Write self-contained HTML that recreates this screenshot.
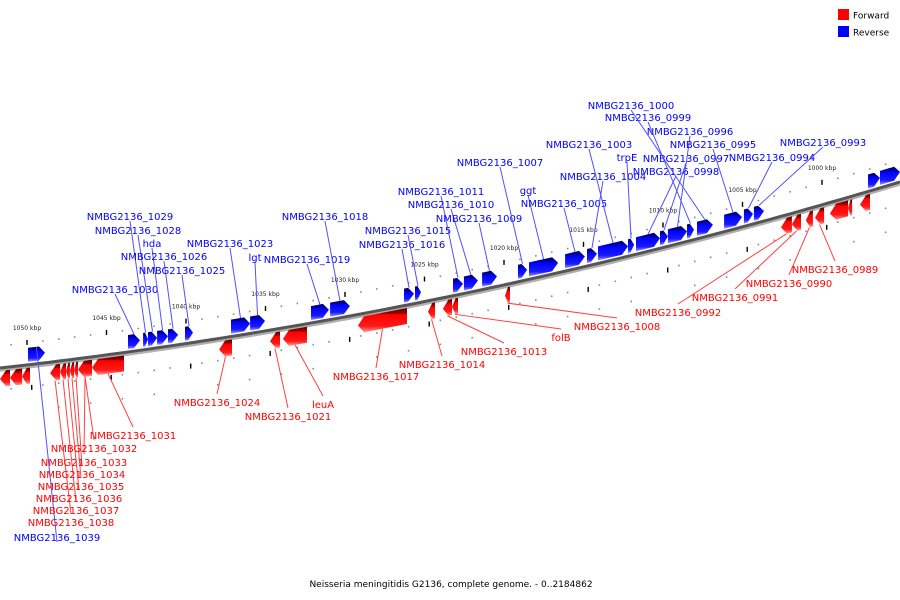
<!DOCTYPE html>
<html><head><meta charset="utf-8">
<style>
html,body{margin:0;padding:0;background:#fff;}
svg{display:block;font-family:"DejaVu Sans","Liberation Sans",sans-serif;}
</style></head>
<body>
<svg id="chart" width="900" height="600" viewBox="0 0 900 600">
<defs>
<linearGradient id="gB" x1="0" y1="0" x2="0" y2="1">
<stop offset="0" stop-color="#000060"/><stop offset="0.22" stop-color="#00009a"/><stop offset="0.27" stop-color="#0000ff"/><stop offset="0.75" stop-color="#1a1aff"/><stop offset="1" stop-color="#9a9aff"/>
</linearGradient>
<linearGradient id="gR" x1="0" y1="0" x2="0" y2="1">
<stop offset="0" stop-color="#600000"/><stop offset="0.22" stop-color="#9a0000"/><stop offset="0.27" stop-color="#ff0000"/><stop offset="0.75" stop-color="#ff1a1a"/><stop offset="1" stop-color="#ff9a9a"/>
</linearGradient>
</defs>
<g id="grid"></g>
<g id="backbone"></g>
<g id="genes"></g>
<g id="labels"></g>
<g>
<rect x="838" y="9" width="11" height="11" fill="#ff0000"/>
<text x="853" y="18.5" font-size="9" fill="#000">Forward</text>
<rect x="838" y="26" width="11" height="11" fill="#0000ff"/>
<text x="853" y="35.5" font-size="9" fill="#000">Reverse</text>
</g>
<text x="451" y="587" font-size="9" text-anchor="middle" fill="#000">Neisseria meningitidis G2136, complete genome. - 0..2184862</text>
</svg>
<script>
// gene data (kbp)
const geneStart = [1048.87,1042.89,1042.39,1041.82,1041.13,1040.50,1039.56,1035.97,1035.03,1031.01,1029.69,1025.66,1025.22,1022.58,1021.64,1020.44,1018.55,1016.60,1014.91,1014.15,1012.20,1011.82,1010.19,1009.69,1008.49,1008.05,1006.86,1005.03,1004.34,1003.65,996.35,995.09,
 1051.07,1050.31,1049.81,1047.92,1047.55,1047.30,1047.04,1046.79,1045.91,1043.90,1037.11,1034.09,1032.39,1026.10,1024.34,1023.27,1022.89,1019.62,1001.89,1001.32,1000.57,999.87,998.36,998.11,996.98];
const geneEnd = [1049.94,1043.65,1042.70,1042.39,1041.82,1041.13,1040.06,1037.17,1035.97,1032.14,1030.94,1026.29,1025.60,1023.21,1022.52,1021.38,1019.12,1018.43,1016.16,1014.78,1014.09,1012.20,1011.70,1010.19,1009.69,1008.49,1007.86,1006.16,1004.91,1004.28,997.11,996.35,
 1051.70,1051.07,1050.31,1048.55,1047.92,1047.55,1047.30,1047.04,1046.79,1045.91,1037.92,1034.72,1033.90,1029.18,1024.78,1023.84,1023.27,1019.94,1002.58,1001.89,1001.01,1000.44,999.50,998.36,997.61];
const geneStrand = ["R","R","R","R","R","R","R","R","R","R","R","R","R","R","R","R","R","R","R","R","R","R","R","R","R","R","R","R","R","R","R","R",
 "F","F","F","F","F","F","F","F","F","F","F","F","F","F","F","F","F","F","F","F","F","F","F","F","F"];
const geneLabel = ["NMBG2136_1039","NMBG2136_1030","NMBG2136_1029","NMBG2136_1028","hda","NMBG2136_1026","NMBG2136_1025","NMBG2136_1023","lgt","NMBG2136_1019","NMBG2136_1018","NMBG2136_1016","NMBG2136_1015","NMBG2136_1011","NMBG2136_1010","NMBG2136_1009","NMBG2136_1007","ggt","NMBG2136_1005","NMBG2136_1004","NMBG2136_1003","trpE","NMBG2136_0998","NMBG2136_0997","NMBG2136_0996","NMBG2136_0999","NMBG2136_1000","NMBG2136_0995","NMBG2136_0994","NMBG2136_0993","","",
 "","","","NMBG2136_1038","NMBG2136_1037","NMBG2136_1036","NMBG2136_1035","NMBG2136_1034","NMBG2136_1033","NMBG2136_1031","NMBG2136_1024","NMBG2136_1021","leuA","NMBG2136_1017","NMBG2136_1014","NMBG2136_1013","folB","NMBG2136_1008","NMBG2136_0992","NMBG2136_0991","NMBG2136_0990","NMBG2136_0989","","",""];
const extraLabel = ["NMBG2136_1032"];
const tickKb = [1050,1045,1040,1035,1030,1025,1020,1015,1010,1005,1000];
const tickLabels = ["1050 kbp","1045 kbp","1040 kbp","1035 kbp","1030 kbp","1025 kbp","1020 kbp","1015 kbp","1010 kbp","1005 kbp","1000 kbp"];

// layout: label centre positions (layout, not data)
const labelPos = [[57,537],[115,289],[130,216],[138,230],[152,243],[164,256],[182,270],[230,243],[255,257],[307,259],[325,216],[402,244],[408,230],[441,191],[451,204],[479,218],[500,162],[528,190],[564,203],[603,176],[589,144],[627,157],[676,171],[686,158],[690,131],[648,117],[631,105],[713,144],[772,157],[823,142],null,null,
 null,null,null,[71,522],[76,510],[79,498],[81,486],[82,474],[84,462],[133,435],[217,402],[288,416],[323,404],[376,376],[442,364],[504,351],[561,337],[617,326],[678,312],[735,297],[789,283],[835,269],null,null,null];

const NS='http://www.w3.org/2000/svg';
function xs(kb){ return 27 + (1050-kb)*15.9; }
function yb(x){ return 368 - 0.1117*x - 1.056e-4*x*x; }
function mk(tag, attrs, parent){ const e=document.createElementNS(NS,tag); for(const k in attrs) e.setAttribute(k,attrs[k]); parent.appendChild(e); return e; }

const gGrid=document.getElementById('grid'), gBack=document.getElementById('backbone'), gGenes=document.getElementById('genes'), gLab=document.getElementById('labels');

// backbone
let pts=[], pts2=[];
for(let x=0;x<=900;x+=10){ pts.push(x+','+yb(x).toFixed(1)); pts2.push(x+','+(yb(x)+2.5).toFixed(1)); }
let sh=mk('polyline',{points:pts2.join(' '),fill:'none',stroke:'#b0b0b0','stroke-width':2.5},gBack);


let bl=mk('polyline',{points:pts.join(' '),fill:'none',stroke:'#555','stroke-width':3},gBack);



// dots each kb
for(let kb=1052;kb>=994;kb--){
  const x=xs(kb); if(x<0||x>900) continue;
  if(kb%5===0) continue;
  [-22,22].forEach(o=>{
    const d=mk('rect',{x:x-0.8,y:yb(x)+o-0.8,width:1.6,height:1.6,fill:'#8a8a8a'},gGrid);
    
    
  });
  if(kb%2===0){
    const d=mk('rect',{x:x-0.8,y:yb(x)+46-0.8,width:1.6,height:1.6,fill:'#8a8a8a'},gGrid);
    
    
  }
}
tickKb.forEach((kb,i)=>{
  const x=xs(kb), y=yb(x);
  const t=mk('rect',{x:x-0.7,y:y-25,width:1.4,height:5,fill:'#000'},gGrid);
  
  
  const t2=mk('rect',{x:x+4,y:y+20,width:1.4,height:5,fill:'#000'},gGrid);
  
  
  const l=mk('text',{x:x,y:y-35,'font-size':6,'text-anchor':'middle',fill:'#222'},gGrid);
  l.textContent=tickLabels[i];
  
  
});

// genes
geneStart.forEach((s,i)=>{
  const e=geneEnd[i], rev=geneStrand[i]==='R';
  let x1=Math.min(xs(s),xs(e)), x2=Math.max(xs(s),xs(e));
  const top=rev?-17:3, bot=rev?-3:19, mid=(top+bot)/2;
  const h=Math.min(6,(x2-x1)*0.6);
  let p;
  if(rev){
    p=[[x1,top],[x2-h,top],[x2,mid],[x2-h,bot],[x1,bot]];
  } else {
    p=[[x2,top],[x1+h,top],[x1,mid],[x1+h,bot],[x2,bot]];
  }
  const str=p.map(q=>q[0].toFixed(1)+','+(yb(q[0])+q[1]).toFixed(1)).join(' ');
  const poly=mk('polygon',{points:str,fill:rev?'url(#gB)':'url(#gR)'},gGenes);
  
  
  const lp=labelPos[i];
  if(geneLabel[i] && lp){
    const gx=(x1+x2)/2, gy=yb(gx)+(rev?top:bot);
    const ly=rev?lp[1]+5:lp[1]-8;
    const ln=mk('line',{x1:gx,y1:gy,x2:lp[0],y2:ly,stroke:rev?'#5050ff':'#ff4040','stroke-width':1},gLab);
    
    
    const t=mk('text',{x:lp[0],y:lp[1]+4,'font-size':10,'text-anchor':'middle',fill:rev?'#0000ff':'#ff0000'},gLab);
    t.textContent=geneLabel[i];
    
    
  }
});
// extra label for the 1032 gene
(function(){
  const gx=xs(1046.35), gy=yb(gx)+19;
  const ln=mk('line',{x1:gx,y1:gy,x2:94,y2:440,stroke:'#ff4040','stroke-width':1},gLab);
  
  
  const t=mk('text',{x:94,y:452,'font-size':10,'text-anchor':'middle',fill:'#ff0000'},gLab);
  t.textContent=extraLabel[0];
  
  
})();
</script>
</body></html>
